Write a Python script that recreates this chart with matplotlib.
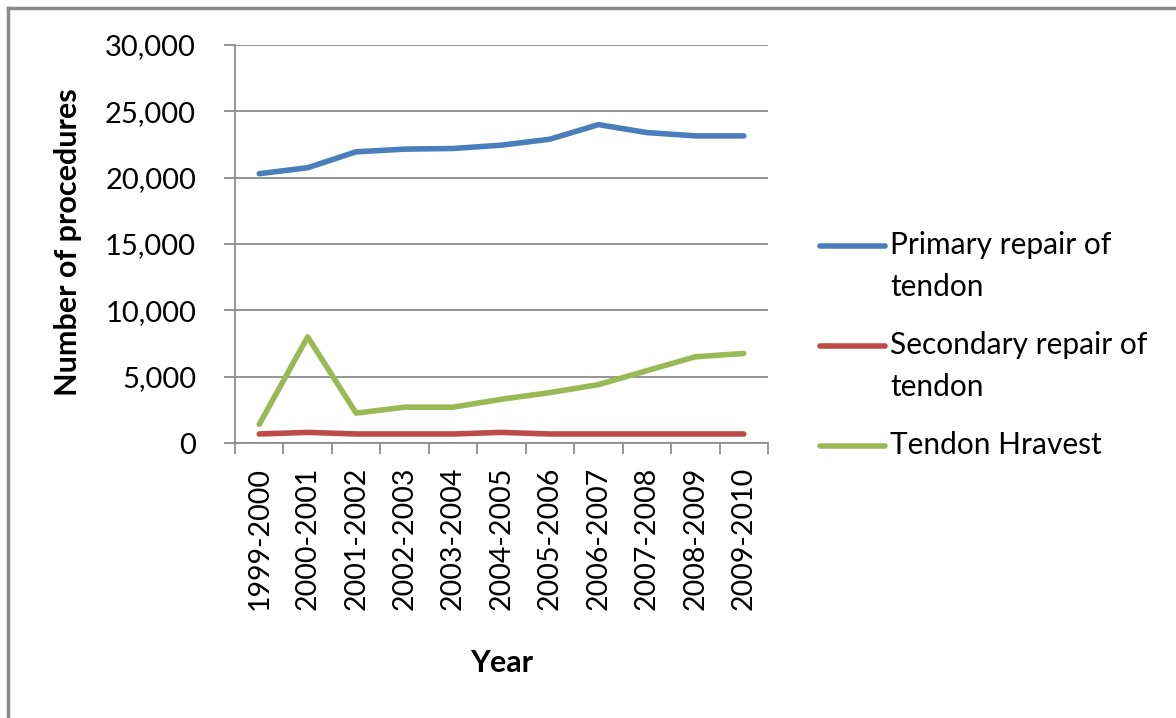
import numpy as np
import matplotlib
matplotlib.use("Agg")
import matplotlib.pyplot as plt
from matplotlib.lines import Line2D
from matplotlib.ticker import FuncFormatter

# data
years = ["1999-2000", "2000-2001", "2001-2002", "2002-2003", "2003-2004", "2004-2005",
         "2005-2006", "2006-2007", "2007-2008", "2008-2009", "2009-2010"]
primary = [20300, 20750, 21950, 22150, 22200, 22450, 22900, 24000, 23400, 23150, 23150]
secondary = [680, 800, 680, 680, 680, 800, 680, 680, 680, 680, 680]
harvest = [1400, 8000, 2250, 2700, 2700, 3300, 3800, 4400, 5450, 6500, 6750]

series_names = ["Primary repair of\ntendon", "Secondary repair of\ntendon", "Tendon Hravest"]
colors = ["#4A7EBB", "#BE4B48", "#98B954"]

plt.rcParams['font.family'] = ['Lato', 'DejaVu Sans']
grid_col = "#8c8c8c"
W, H = 1176, 718

fig = plt.figure(figsize=(W / 100, H / 100), dpi=100)
ax = fig.add_axes([235 / W, 1 - 443 / H, (768 - 235) / W, (443 - 45) / H])

x = np.arange(len(years))
for vals, c in zip([primary, secondary, harvest], colors):
    ax.plot(x, vals, color=c, lw=4.0, solid_capstyle='round', solid_joinstyle='round')

ax.set_xlim(-0.5, len(years) - 0.5)
ax.set_ylim(0, 30000)
ax.set_yticks(np.arange(0, 30001, 5000))
ax.yaxis.set_major_formatter(FuncFormatter(lambda v, p: f"{int(v):,}"))
ax.yaxis.grid(True, color=grid_col, lw=1.3)
ax.set_axisbelow(True)

# category labels centered, tick marks on the boundaries
ax.set_xticks(x)
ax.set_xticklabels(years, rotation=90, fontsize=20.5)
ax.set_xticks(np.arange(-0.5, len(years)), minor=True)
ax.tick_params(axis='x', which='major', length=0, pad=17)
ax.tick_params(axis='x', which='minor', length=8, width=1.3, color=grid_col, direction='out')
ax.tick_params(axis='y', length=8, width=1.3, color=grid_col, labelsize=21, pad=20)

for s in ['top', 'right']:
    ax.spines[s].set_visible(False)
for s in ['left', 'bottom']:
    ax.spines[s].set_color(grid_col)
    ax.spines[s].set_linewidth(1.3)

fig.text(68 / W, 1 - 242 / H, "Number of procedures", rotation=90, fontsize=22,
         fontweight='bold', ha='center', va='center')
fig.text(502 / W, 1 - 663 / H, "Year", fontsize=22, fontweight='bold', ha='center', va='center')

# Excel-style legend: handle aligned with the first text row
for i, (name, c) in enumerate(zip(series_names, colors)):
    yc = 1 - (246 + 100 * i) / H
    fig.add_artist(Line2D([820 / W, 885 / W], [yc, yc], color=c, lw=4.0, solid_capstyle='round'))
    fig.text(890 / W, yc + 15 / H, name, fontsize=21.5, ha='left', va='top', linespacing=1.6)

# outer chart frame (top and left edges visible)
fig.add_artist(Line2D([8 / W, 1], [1 - 8 / H] * 2, color="#8a8a8a", lw=2.5))
fig.add_artist(Line2D([8 / W] * 2, [1 - 8 / H, 0], color="#8a8a8a", lw=2.5))

fig.savefig("out.png", dpi=100)
